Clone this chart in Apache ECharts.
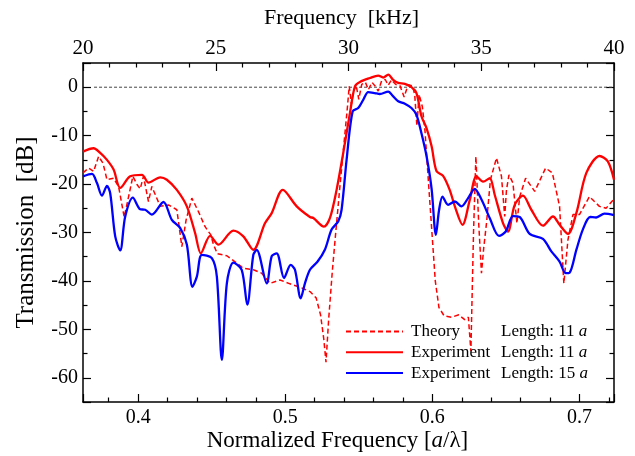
<!DOCTYPE html>
<html>
<head>
<meta charset="utf-8">
<script src="https://cdn.jsdelivr.net/npm/echarts@6/dist/echarts.min.js"></script>
<style>
html, body { margin: 0; padding: 0; background: #fff; }
#main { width: 635px; height: 456px; }
</style>
</head>
<body>
<div id="main"></div>
<script>
// normalized frequency a/lambda, transmission in dB
var theoryX = [0.3625, 0.3663, 0.3697, 0.3731, 0.3761, 0.3788, 0.3833, 0.3867, 0.3905, 0.3935,
    0.3964, 0.3992, 0.4014, 0.4036, 0.4070, 0.4093, 0.4150, 0.4206, 0.4263, 0.4297,
    0.4326, 0.4365, 0.4410, 0.4455, 0.4494, 0.4512, 0.4539, 0.4603, 0.4670, 0.4715,
    0.4783, 0.4840, 0.4897, 0.4964, 0.5032, 0.5100, 0.5168, 0.5210, 0.5240, 0.5262,
    0.5277, 0.5295, 0.5320, 0.5345, 0.5370, 0.5395, 0.5420, 0.5435, 0.5450, 0.5465,
    0.5482, 0.5500, 0.5520, 0.5545, 0.5565, 0.5590, 0.5612, 0.5632, 0.5655, 0.5680,
    0.5700, 0.5722, 0.5750, 0.5780, 0.5808, 0.5835, 0.5865, 0.5880, 0.5895, 0.5910,
    0.5932, 0.5950, 0.5970, 0.5995, 0.6020, 0.6045, 0.6080, 0.6130, 0.6180, 0.6220,
    0.6245, 0.6262, 0.6280, 0.6296, 0.6315, 0.6334, 0.6350, 0.6368, 0.6395, 0.6436,
    0.6470, 0.6492, 0.6504, 0.6521, 0.6548, 0.6575, 0.6594, 0.6634, 0.6696, 0.6770,
    0.6816, 0.6865, 0.6894, 0.6922, 0.6956, 0.7000, 0.7068, 0.7136, 0.7181, 0.7235];
var theoryY = [-17.7, -16.7, -17.4, -14.3, -15.7, -19.1, -18.8, -20.5, -26.8, -22.6,
    -18.4, -20.1, -21.0, -18.4, -23.6, -20.5, -24.6, -24.3, -25.3, -32.9,
    -27.4, -22.9, -25.7, -28.8, -30.5, -32.5, -34.4, -34.8, -36.3, -37.4,
    -37.7, -38.4, -40.5, -39.8, -40.6, -41.3, -42.2, -43.5, -47.0, -52.0,
    -56.8, -48.0, -38.0, -29.4, -21.0, -13.0, -5.0, 0.2, -3.5, -0.8,
    0.4, -2.5, 0.6, 1.0, -0.5, 1.0, 0.2, -0.8, 1.3, 1.6,
    0.4, 1.5, 0.6, 0.3, -2.0, 0.5, 0.3, -1.5, -8.0, -1.5,
    -4.0, -9.0, -18.0, -29.0, -40.0, -45.5, -47.2, -47.5, -47.0, -48.0,
    -47.5, -54.5, -30.0, -14.3, -28.0, -38.4, -33.0, -28.1, -19.1, -14.6,
    -18.4, -26.7, -21.2, -18.1, -19.8, -28.1, -22.6, -18.8, -21.5, -16.7,
    -17.7, -24.6, -40.5, -31.5, -26.3, -26.3, -22.6, -24.6, -25.0, -23.1];

var exp11X = [0.3625, 0.3697, 0.3740, 0.3788, 0.3833, 0.3878, 0.3946, 0.4026, 0.4070, 0.4150,
    0.4195, 0.4263, 0.4331, 0.4387, 0.4426, 0.4489, 0.4546, 0.4647, 0.4715, 0.4783,
    0.4862, 0.4908, 0.4983, 0.5078, 0.5168, 0.5191, 0.5263, 0.5304, 0.5349, 0.5394,
    0.5440, 0.5474, 0.5508, 0.5575, 0.5632, 0.5666, 0.5700, 0.5734, 0.5768, 0.5813,
    0.5858, 0.5892, 0.5926, 0.5961, 0.5995, 0.6028, 0.6073, 0.6118, 0.6153, 0.6205,
    0.6255, 0.6300, 0.6345, 0.6390, 0.6424, 0.6481, 0.6514, 0.6560, 0.6616, 0.6673,
    0.6752, 0.6820, 0.6865, 0.6922, 0.6979, 0.7047, 0.7137, 0.7193, 0.7235];
var exp11Y = [-13.3, -12.6, -13.5, -15.0, -17.0, -20.8, -18.4, -18.1, -19.7, -18.6,
    -19.1, -21.2, -24.6, -30.1, -34.3, -30.7, -32.5, -29.6, -30.8, -33.6,
    -28.1, -26.0, -21.2, -24.6, -26.8, -27.0, -28.8, -27.0, -21.2, -13.6,
    -5.3, 0.2, 1.1, 1.9, 2.4, 2.0, 2.6, 1.5, 0.9, 0.7,
    0.0, -1.2, -6.0, -8.5, -12.2, -17.3, -18.3, -21.2, -24.6, -28.4,
    -23.2, -18.4, -19.5, -18.8, -22.2, -28.1, -29.8, -24.3, -22.4, -25.3,
    -28.6, -26.7, -28.4, -30.3, -26.0, -17.7, -14.2, -15.3, -19.1];

var exp15X = [0.3625, 0.3686, 0.3720, 0.3754, 0.3788, 0.3810, 0.3844, 0.3878, 0.3912, 0.3964,
    0.4014, 0.4048, 0.4093, 0.4172, 0.4229, 0.4286, 0.4331, 0.4369, 0.4399, 0.4433,
    0.4501, 0.4535, 0.4569, 0.4603, 0.4647, 0.4704, 0.4742, 0.4783, 0.4806, 0.4874,
    0.4908, 0.4942, 0.4992, 0.5037, 0.5066, 0.5105, 0.5134, 0.5168, 0.5220, 0.5270,
    0.5315, 0.5360, 0.5383, 0.5417, 0.5458, 0.5496, 0.5530, 0.5564, 0.5609, 0.5643,
    0.5700, 0.5734, 0.5768, 0.5813, 0.5858, 0.5892, 0.5926, 0.5961, 0.5995, 0.6024,
    0.6046, 0.6069, 0.6107, 0.6153, 0.6198, 0.6243, 0.6288, 0.6334, 0.6390, 0.6453,
    0.6499, 0.6548, 0.6594, 0.6662, 0.6752, 0.6809, 0.6865, 0.6906, 0.6933, 0.6979,
    0.7023, 0.7073, 0.7114, 0.7170, 0.7235];
var exp15Y = [-18.4, -17.9, -19.8, -22.4, -20.4, -21.9, -30.8, -33.7, -26.7, -22.8,
    -25.2, -25.3, -26.3, -23.7, -27.4, -29.1, -32.5, -41.2, -39.1, -34.6,
    -35.3, -39.1, -56.3, -40.5, -36.2, -37.7, -44.9, -34.6, -33.6, -40.5,
    -34.9, -34.3, -39.4, -36.7, -37.7, -43.6, -40.5, -37.7, -36.0, -33.5,
    -29.4, -27.7, -25.3, -15.0, -5.0, -4.3, -2.6, -1.0, -1.2, -1.4,
    -0.9, -1.9, -2.9, -3.4, -4.3, -5.7, -9.5, -14.3, -21.0, -30.5,
    -25.3, -22.6, -24.3, -23.6, -24.6, -22.9, -21.0, -23.2, -27.0, -30.7,
    -29.8, -26.6, -26.8, -30.3, -31.3, -33.9, -36.0, -38.4, -38.3, -33.6,
    -29.4, -26.8, -26.9, -26.1, -26.4];

var zeroX = [0.37, 0.7235];
var zeroY = [0, 0];

var legendNames = ['Theory', 'Experiment11', 'Experiment15'];
var legendLabels = {
    Theory: ['Theory', '11'],
    Experiment11: ['Experiment', '11'],
    Experiment15: ['Experiment', '15']
};

function pairs(xs, ys)
{
    var out = [];
    for (var i = 0; i < xs.length; i++) {
        out.push([xs[i], ys[i]]);
    }
    return out;
}

var FONT = 'Liberation Serif';
var TICK_SIZE = 20;
var NAME_SIZE = 22;
var chart = echarts.init(document.getElementById('main'));

function axis(extra, minorSplit)
{
    var a = {
        axisLine: {show: true, onZero: false, lineStyle: {color: '#000', width: 1.5}},
        axisTick: {show: true, inside: true, length: 8, lineStyle: {color: '#000', width: 1.2}},
        minorTick: {show: true, splitNumber: minorSplit, length: 4.5, lineStyle: {color: '#000', width: 1.2}},
        splitLine: {show: false},
        minorSplitLine: {show: false},
        nameMoveOverlap: false
    };
    for (var k in extra) a[k] = extra[k];
    return a;
}

var option = {
    animation: false,
    backgroundColor: '#fff',
    grid: {left: 83, right: 21, top: 63, bottom: 54, containLabel: false, outerBoundsMode: 'none'},
    legend: {
        data: legendNames,
        orient: 'vertical',
        left: 345,
        top: 323,
        padding: 0,
        itemWidth: 57,
        itemHeight: 18,
        itemGap: 3.8,
        itemStyle: {opacity: 0, color: 'transparent', borderWidth: 0},
        formatter: function(name) {
            var l = legendLabels[name];
            return '{n|' + l[0] + '}{l|Length: ' + l[1] + ' }{i|a}';
        },
        textStyle: {
            color: '#000',
            fontFamily: FONT,
            fontSize: 17,
            rich: {
                n: {width: 90, fontFamily: FONT, fontSize: 17, padding: [0, 0, 0, 3]},
                l: {fontFamily: FONT, fontSize: 17},
                i: {fontFamily: FONT, fontSize: 17, fontStyle: 'italic'}
            }
        }
    },
    xAxis: [
        axis({
            type: 'value',
            position: 'bottom',
            min: 0.3625,
            max: 0.7235,
            splitNumber: 4,
            axisLabel: {show: true, margin: 6, showMinLabel: false, showMaxLabel: false,
                color: '#000', fontFamily: FONT, fontSize: TICK_SIZE},
            name: '{n|Normalized Frequency [}{i|a}{n|/\u03bb]}',
            nameLocation: 'middle',
            nameGap: 27,
            nameTextStyle: {
                color: '#000', fontFamily: FONT, fontSize: 23,
                padding: [0, 22, 0, 0],
                rich: {
                    n: {fontFamily: FONT, fontSize: 23, color: '#000'},
                    i: {fontFamily: FONT, fontSize: 23, color: '#000', fontStyle: 'italic'}
                }
            }
        }, 5),
        axis({
            type: 'value',
            position: 'top',
            min: 20,
            max: 40,
            interval: 5,
            axisLabel: {show: true, margin: 4, color: '#000', fontFamily: FONT, fontSize: 21},
            name: 'Frequency  [kHz]',
            nameLocation: 'middle',
            nameGap: 34,
            nameTextStyle: {color: '#000', fontFamily: FONT, fontSize: NAME_SIZE, padding: [0, 14, 0, 0]}
        }, 5)
    ],
    yAxis: [
        axis({
            type: 'value',
            position: 'left',
            min: -65,
            max: 5,
            splitNumber: 7,
            axisLabel: {show: true, margin: 5, showMinLabel: false, showMaxLabel: false,
                color: '#000', fontFamily: FONT, fontSize: TICK_SIZE},
            name: 'Transmission  [dB]',
            nameLocation: 'middle',
            nameGap: 44,
            nameTextStyle: {color: '#000', fontFamily: FONT, fontSize: 25}
        }, 2),
        axis({
            type: 'value',
            position: 'right',
            min: -65,
            max: 5,
            splitNumber: 7,
            axisLabel: {show: false}
        }, 2)
    ],
    series: [
        {
            name: 'zero',
            type: 'line',
            data: pairs(zeroX, zeroY),
            symbol: 'none',
            silent: true,
            lineStyle: {color: '#444', width: 1, type: [3, 2]},
            z: 1
        },
        {
            name: 'Theory',
            type: 'line',
            data: pairs(theoryX, theoryY),
            symbol: 'none',
            color: '#ff0000',
            lineStyle: {color: '#ff0000', width: 1.5, type: [5, 3]},
            z: 2
        },
        {
            name: 'Experiment11',
            type: 'line',
            data: pairs(exp11X, exp11Y),
            symbol: 'none',
            smooth: 0.3,
            color: '#ff0000',
            lineStyle: {color: '#ff0000', width: 2.3},
            z: 3
        },
        {
            name: 'Experiment15',
            type: 'line',
            data: pairs(exp15X, exp15Y),
            symbol: 'none',
            smooth: 0.3,
            color: '#0000ff',
            lineStyle: {color: '#0000ff', width: 2.3},
            z: 4
        }
    ]
};

chart.setOption(option);
</script>
</body>
</html>
